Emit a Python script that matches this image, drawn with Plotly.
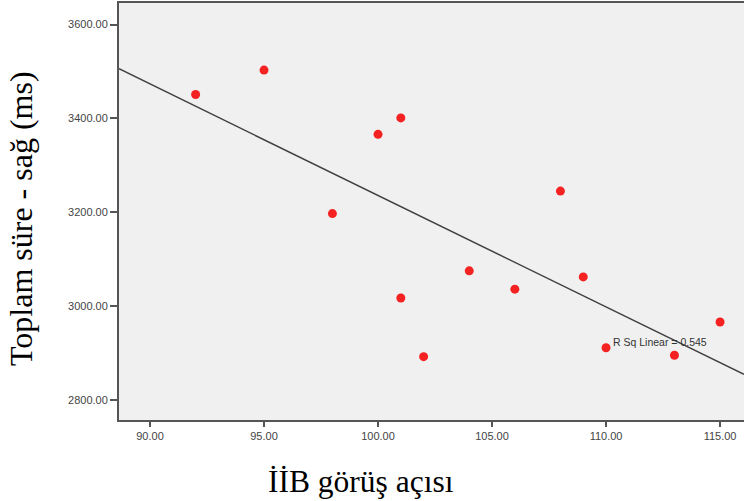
import numpy as np
import plotly.graph_objects as go

# Data
x_vals = [92, 95, 98, 100, 101, 101, 102, 104, 106, 108, 109, 110, 113, 115]
y_vals = [3451, 3503, 3197, 3366, 3401, 3017, 2892, 3075, 3036, 3245, 3062, 2911, 2895, 2966]
x_ticks = [90, 95, 100, 105, 110, 115]
y_ticks = [2800, 3000, 3200, 3400, 3600]
x_title = "İİB görüş açısı"
y_title = "Toplam süre - sağ (ms)"
r2_label = "R Sq Linear = 0.545"

x_range = [88.64, 116.05]
y_range = [2757, 3646]

slope, intercept = np.polyfit(x_vals, y_vals, 1)
fit_x = np.array(x_range)
fit_y = slope * fit_x + intercept

fig = go.Figure()
fig.add_trace(go.Scatter(x=fit_x, y=fit_y, mode="lines",
                         line=dict(color="#404040", width=1.5),
                         hoverinfo="skip", showlegend=False))
fig.add_trace(go.Scatter(x=x_vals, y=y_vals, mode="markers",
                         marker=dict(color="#f52222", size=9, line=dict(width=0)),
                         showlegend=False))

tickfont = dict(family="Liberation Sans, Arial", size=11, color="#444444")
fig.update_xaxes(range=x_range, tickvals=x_ticks,
                 ticktext=[f"{v:.2f}" for v in x_ticks],
                 showgrid=False, zeroline=False, showline=True, mirror=True,
                 linecolor="#555555", linewidth=2, ticks="outside",
                 ticklen=5, tickcolor="#555555", tickwidth=1.5, tickfont=tickfont)
fig.update_yaxes(range=y_range, tickvals=y_ticks,
                 ticktext=[f"{v:.2f}" for v in y_ticks],
                 showgrid=False, zeroline=False, showline=True,
                 linecolor="#555555", linewidth=2, ticks="outside",
                 ticklen=7, tickcolor="#555555", tickwidth=1.5, tickfont=tickfont)

fig.add_annotation(x=110.2, y=2923, text=r2_label, showarrow=False,
                   xanchor="left", yanchor="middle",
                   font=dict(family="Liberation Sans, Arial", size=10.5, color="#333333"))
fig.add_annotation(xref="paper", yref="paper", x=0, y=0.482, xshift=-98,
                   text=y_title, textangle=-90, showarrow=False,
                   xanchor="center", yanchor="middle",
                   font=dict(family="Liberation Serif, Times New Roman", size=32, color="#000000"))
fig.add_annotation(xref="paper", yref="paper", x=0.3864, y=0, yshift=-61,
                   text=x_title, showarrow=False,
                   xanchor="center", yanchor="middle",
                   font=dict(family="Liberation Serif, Times New Roman", size=31.5, color="#000000"))

fig.update_layout(width=744, height=501, autosize=False,
                  margin=dict(l=119, r=0, t=3, b=81),
                  plot_bgcolor="#f0f0f0", paper_bgcolor="#ffffff",
                  showlegend=False)

fig.write_html("out.html")
